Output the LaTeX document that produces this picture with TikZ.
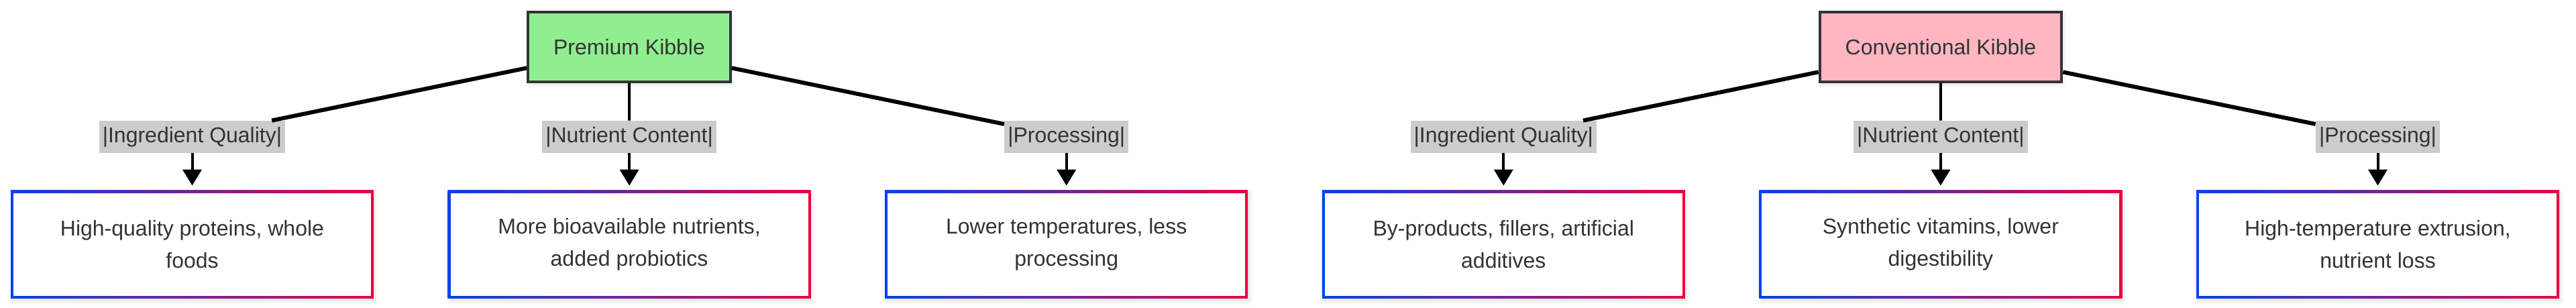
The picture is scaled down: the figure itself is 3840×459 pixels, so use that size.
\documentclass[tikz,border=0pt]{standalone}
\usepackage{fontspec}
\setmainfont{Liberation Sans}
\usepackage{tikz}
\usetikzlibrary{arrows.meta, shadows.blur}

\definecolor{txtgray}{HTML}{333333}
\definecolor{premgreen}{HTML}{90EE90}
\definecolor{convpink}{HTML}{FFB6C1}
\definecolor{labelgray}{HTML}{CCCCCC}
\definecolor{gradblue}{HTML}{0042EB}
\definecolor{gradred}{HTML}{EB0042}

\tikzset{
    softshadow/.style={blur shadow={shadow xshift=1pt, shadow yshift=-2pt, shadow blur radius=3pt, shadow opacity=12}},
    rootbox/.style={draw=txtgray, line width=2pt, minimum height=52pt, inner xsep=19pt, text=txtgray, softshadow},
    edgelabel/.style={fill=labelgray, text=txtgray, minimum height=24pt, inner ysep=0pt, inner xsep=2.5pt},
    leafbox/.style={minimum width=270.5pt, minimum height=80.5pt, inner sep=0pt, left color=gradblue, right color=gradred,
        text=txtgray, align=center, softshadow,
        path picture={\fill[white] ([shift={(2pt,2pt)}]path picture bounding box.south west)
            rectangle ([shift={(-2pt,-2pt)}]path picture bounding box.north east);}},
    link/.style={line width=2pt, black},
}

\begin{document}
\begin{tikzpicture}[x=0.5pt, y=-0.5pt, font=\fontsize{16pt}{24pt}\selectfont]
        \useasboundingbox (0,0) rectangle (3840,459);

        \node[rootbox, fill=premgreen] (premium) at (938,70) {Premium Kibble};
        \node[rootbox, fill=convpink] (conventional) at (2893,70) {Conventional Kibble};

        \foreach \nm/\x/\src/\w/\lab/\txt in {
            pIng/286.5/premium/3pt/Ingredient Quality/{High-quality proteins, whole\\foods},
            pNut/938.1/premium/2pt/Nutrient Content/{More bioavailable nutrients,\\added probiotics},
            pProc/1589.7/premium/3pt/Processing/{Lower temperatures, less\\processing},
            cIng/2241.3/conventional/3pt/Ingredient Quality/{By-products, fillers, artificial\\additives},
            cNut/2892.9/conventional/2pt/Nutrient Content/{Synthetic vitamins, lower\\digestibility},
            cProc/3544.5/conventional/3pt/Processing/{High-temperature extrusion,\\nutrient loss}} {
            \node[edgelabel] (\nm-lab) at (\x,204) {|\lab|};
            \node[leafbox] (\nm-box) at (\x,364.5) {\txt};
            \draw[link, line width=\w] (\src) -- (\nm-lab);
            \draw[link, -{Triangle[length=12pt, width=14pt]}, shorten >=3.5pt] (\nm-lab) -- (\nm-box);
        }
    \end{tikzpicture}
\end{document}
